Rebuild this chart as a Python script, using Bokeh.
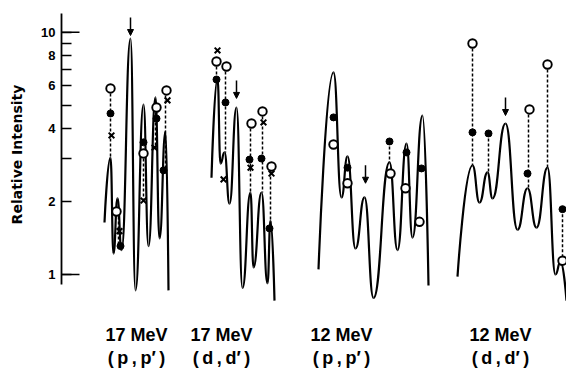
import math
from bokeh.plotting import figure
from bokeh.layouts import column
from bokeh.models import (Range1d, FixedTicker, ColumnDataSource, Arrow, NormalHead)
from bokeh.core.properties import value
from bokeh.embed import file_html
from bokeh.resources import INLINE

# ---------------- data ----------------
# x : position along each spectrum (arbitrary channel units), y : relative intensity
# Spectrum 1 : 17 MeV (p,p')
curve1_x = [104, 110, 113, 117, 121, 130, 135, 143, 148, 155, 159, 165, 168]
curve1_y = [1.64, 3.04, 1.22, 2.06, 1.26, 9.42, 0.86, 5.03, 1.31, 5.38, 1.41, 3.89, 0.86]
open1_x = [110, 116, 143, 156, 166]
open1_y = [5.86, 1.82, 3.16, 4.89, 5.75]
filled1_x = [110, 120, 143, 156, 163]
filled1_y = [4.62, 1.31, 3.51, 4.40, 2.69]
cross1_x = [111, 119, 143, 154, 167]
cross1_y = [3.75, 1.51, 2.02, 3.34, 5.23]
link1_x = [110, 118, 143, 155, 165]
link1_hi = [5.86, 1.82, 3.16, 4.89, 5.75]
link1_lo = [3.04, 1.31, 2.02, 3.34, 2.69]
arrow1_x, arrow1_y = [130], [9.69]

# Spectrum 2 : 17 MeV (d,d')
curve2_x = [211, 217, 220, 224, 229, 236, 242, 250, 253, 261, 267, 270, 274]
curve2_y = [2.51, 6.44, 2.87, 3.19, 1.96, 4.89, 0.88, 2.18, 1.07, 2.18, 0.92, 1.67, 0.78]
open2_x = [216, 226, 251, 262, 271]
open2_y = [7.57, 7.22, 4.20, 4.71, 2.79]
filled2_x = [216, 225, 249, 261, 269]
filled2_y = [6.38, 5.13, 2.98, 3.01, 1.55]
cross2_x = [217, 223, 250, 263, 271]
cross2_y = [8.41, 2.47, 2.76, 4.24, 2.61]
link2_x = [216, 225, 250, 262, 270]
link2_hi = [7.57, 7.22, 4.20, 4.71, 2.79]
link2_lo = [6.38, 3.19, 2.18, 2.18, 1.55]
arrow2_x, arrow2_y = [236], [5.33]

# Spectrum 3 : 12 MeV (p,p')
curve3_x = [318, 333, 341, 347, 355, 364, 373, 389, 397, 406, 412, 422, 428]
curve3_y = [1.05, 6.82, 2.08, 3.07, 1.28, 2.08, 0.80, 2.90, 1.26, 3.47, 1.42, 4.53, 0.90]
open3_x = [333, 347, 390, 405, 419]
open3_y = [3.44, 2.38, 2.61, 2.27, 1.65]
filled3_x = [333, 347, 389, 406, 421]
filled3_y = [4.45, 2.76, 3.54, 3.19, 2.74]
cross3_x, cross3_y = [], []
link3_x, link3_hi, link3_lo = [389], [3.54], [2.90]
arrow3_x, arrow3_y = [365], [2.38]

# Spectrum 4 : 12 MeV (d,d')
curve4_x = [457, 472, 479, 487, 492, 505, 517, 527, 536, 547, 555, 560, 566]
curve4_y = [0.98, 2.82, 1.98, 2.64, 2.06, 4.20, 1.53, 2.27, 1.56, 2.76, 1.00, 1.13, 0.78]
open4_x = [472, 529, 547, 562]
open4_y = [8.98, 4.80, 7.36, 1.14]
filled4_x = [472, 488, 527, 562]
filled4_y = [3.86, 3.82, 2.61, 1.86]
cross4_x, cross4_y = [], []
link4_x = [472, 488, 528, 547, 562]
link4_hi = [8.98, 3.82, 4.80, 7.36, 1.86]
link4_lo = [2.82, 2.64, 2.27, 2.76, 1.14]
arrow4_x, arrow4_y = [505], [4.53]

# axis
tick_values = [1, 2, 4, 6, 8, 10]
minor_tick_values = [3, 5, 7, 9]
long_tick_values = [1, 10]

energy_labels = ["17 MeV", "17 MeV", "12 MeV", "12 MeV"]
reaction_labels = ["(\u2009p\u2009,\u2009p\u2032\u2009)", "(\u2009d\u2009,\u2009d\u2032\u2009)",
                   "(\u2009p\u2009,\u2009p\u2032\u2009)", "(\u2009d\u2009,\u2009d\u2032\u2009)"]

# ---------------- layout constants ----------------
W = 566
H_TOP = 308
H_BOT = 65
AXIS_X = 61
PX_PER_DECADE = 242.3
Y_AT_1 = 274          # pixel row of intensity 1


def yval(py):
    """layout helper: pixel row -> axis value (axis range / bounds only)"""
    return 10 ** ((Y_AT_1 - py) / PX_PER_DECADE)


label_x = [136, 221, 341, 500]

p = figure(width=W, height=H_TOP,
           x_range=Range1d(AXIS_X, W), y_range=Range1d(yval(H_TOP), yval(0)),
           y_axis_type="log", x_axis_location=None,
           toolbar_location=None, output_backend="svg",
           min_border_left=AXIS_X, min_border_right=0, min_border_top=0, min_border_bottom=0)
p.grid.visible = False
p.outline_line_color = None
p.background_fill_color = "white"
p.border_fill_color = "white"

ax = p.yaxis[0]
ax.ticker = FixedTicker(ticks=tick_values, minor_ticks=minor_tick_values)
ax.bounds = (yval(284), yval(13))
ax.axis_line_width = 1.8
ax.major_tick_in = 10
ax.major_tick_out = 0
ax.minor_tick_in = 10
ax.minor_tick_out = 0
ax.major_tick_line_width = 1.5
ax.minor_tick_line_width = 1.5
ax.major_label_standoff = 6
ax.major_label_text_font = "Liberation Sans"
ax.major_label_text_font_size = "13px"
ax.major_label_text_font_style = "bold"
ax.major_label_text_color = "black"
ax.major_label_overrides = {v: str(v) for v in tick_values}
ax.axis_label = "Relative Intensity"
ax.axis_label_text_font = "DejaVu Sans"
ax.axis_label_text_font_size = "14px"
ax.axis_label_text_font_style = "bold"
ax.axis_label_text_color = "black"
ax.axis_label_standoff = 13

# longer ticks at 1 and 10
p.segment(x0=[AXIS_X] * len(long_tick_values), x1=[AXIS_X + 18] * len(long_tick_values),
          y0=long_tick_values, y1=long_tick_values, line_color="black", line_width=1.5)


def bezier_source(xs, ys, k=0.5):
    n = len(xs)
    d = dict(x0=[], y0=[], x1=[], y1=[], cx0=[], cy0=[], cx1=[], cy1=[])
    for i in range(n - 1):
        dx = xs[i + 1] - xs[i]
        d["x0"].append(xs[i]); d["y0"].append(ys[i])
        d["x1"].append(xs[i + 1]); d["y1"].append(ys[i + 1])
        if i == 0:
            d["cx0"].append(xs[i]); d["cy0"].append(ys[i])
        else:
            d["cx0"].append(xs[i] + k * dx); d["cy0"].append(ys[i])
        if i == n - 2:
            d["cx1"].append(xs[i + 1]); d["cy1"].append(ys[i + 1])
        else:
            d["cx1"].append(xs[i + 1] - k * dx); d["cy1"].append(ys[i + 1])
    return ColumnDataSource(d)


spectra = [
    (curve1_x, curve1_y, open1_x, open1_y, filled1_x, filled1_y, cross1_x, cross1_y,
     link1_x, link1_hi, link1_lo, arrow1_x, arrow1_y),
    (curve2_x, curve2_y, open2_x, open2_y, filled2_x, filled2_y, cross2_x, cross2_y,
     link2_x, link2_hi, link2_lo, arrow2_x, arrow2_y),
    (curve3_x, curve3_y, open3_x, open3_y, filled3_x, filled3_y, cross3_x, cross3_y,
     link3_x, link3_hi, link3_lo, arrow3_x, arrow3_y),
    (curve4_x, curve4_y, open4_x, open4_y, filled4_x, filled4_y, cross4_x, cross4_y,
     link4_x, link4_hi, link4_lo, arrow4_x, arrow4_y),
]

ARROW_LEN = 10 ** (18 / PX_PER_DECADE)

for (cx, cy, ox, oy, fx, fy, xx, xy, lx, lhi, llo, axx, ayy) in spectra:
    p.bezier(x0="x0", y0="y0", x1="x1", y1="y1", cx0="cx0", cy0="cy0", cx1="cx1", cy1="cy1",
             source=bezier_source(cx, cy), line_color="black", line_width=2.2)
    if lx:
        p.segment(x0=lx, x1=lx, y0=lhi, y1=llo, line_color="black", line_width=1.5,
                  line_dash="3 2")
    if xx:
        p.scatter(xx, xy, marker="x", size=8, line_color="black", line_width=2)
    if fx:
        p.scatter(fx, fy, marker="circle", size=7, fill_color="black", line_color="black")
    if ox:
        p.scatter(ox, oy, marker="circle", size=8.5, fill_color="white", line_color="black",
                  line_width=1.9)
    src = ColumnDataSource(dict(x=axx, ys=[v * ARROW_LEN for v in ayy], ye=ayy))
    p.add_layout(Arrow(end=NormalHead(size=6, fill_color="black", line_color="black", line_width=1),
                       x_start="x", y_start="ys", x_end="x", y_end="ye", source=src,
                       line_color="black", line_width=1.5))

# bottom strip with the spectrum captions (same horizontal frame; y = pixel rows)
q = figure(width=W, height=H_BOT, x_range=p.x_range, y_range=Range1d(H_TOP + H_BOT, H_TOP),
           x_axis_location=None, y_axis_location=None,
           toolbar_location=None, output_backend="svg",
           min_border_left=AXIS_X, min_border_right=0, min_border_top=0, min_border_bottom=0)
q.grid.visible = False
q.outline_line_color = None
q.background_fill_color = "white"
q.border_fill_color = "white"

q.text(x=label_x, y=[334] * 4, text=energy_labels, text_align="center",
       text_baseline="alphabetic", text_font=value("Liberation Sans"),
       text_font_size="18px", text_font_style="bold", text_color="black")
q.text(x=label_x, y=[357] * 4, text=reaction_labels, text_align="center",
       text_baseline="alphabetic", text_font=value("Liberation Sans"),
       text_font_size="18px", text_font_style="bold", text_color="black")

layout = column(p, q, spacing=0)
open("out.html", "w").write(file_html(layout, INLINE))
